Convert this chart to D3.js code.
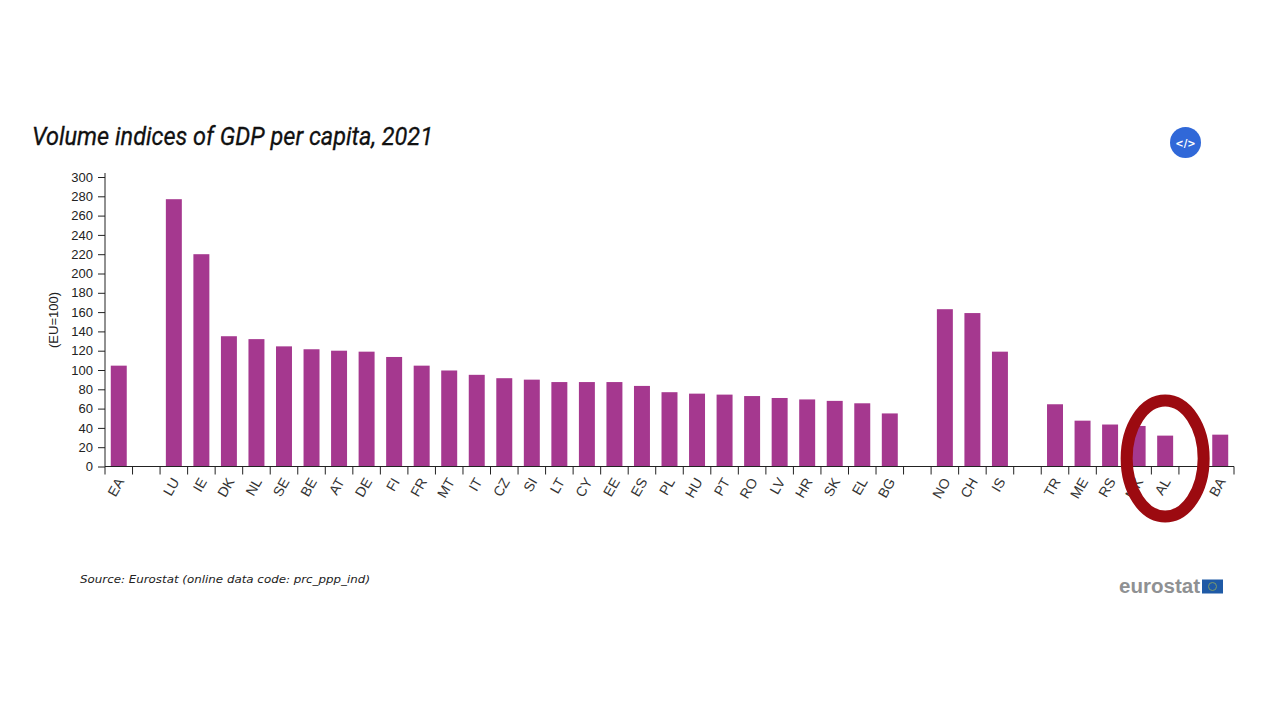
<!DOCTYPE html>
<html>
<head>
<meta charset="utf-8">
<script src="https://cdn.jsdelivr.net/npm/d3@7"></script>
<style>
  html, body { margin: 0; padding: 0; background: #fff; }
  svg { display: block; }
</style>
</head>
<body>
<div id="chart"></div>
<script>
// blank slots are the gaps between country groups
var categories = ["EA", "_1", "LU", "IE", "DK", "NL", "SE", "BE", "AT", "DE", "FI", "FR", "MT", "IT", "CZ", "SI", "LT", "CY", "EE", "ES", "PL", "HU", "PT", "RO", "LV", "HR", "SK", "EL", "BG", "_2", "NO", "CH", "IS", "_3", "TR", "ME", "RS", "MK", "AL", "_4", "BA"];
var values = [104.5, null, 277, 220, 135, 132, 124.5, 121.5, 120, 119, 113.5, 104.5, 99.5, 95, 91.5, 90, 87.5, 87.5, 87.5, 83.5, 77, 75.5, 74.5, 73, 71, 69.5, 68, 65.5, 55, null, 163, 159, 119, null, 64.5, 47.5, 43.5, 42, 32, null, 33];
var yTicks = d3.range(0, 301, 20);

var svg = d3.select("#chart").append("svg")
    .attr("width", 1280)
    .attr("height", 720);

var x = d3.scaleBand().domain(categories).range([105, 1234]).paddingInner(0.42).paddingOuter(0.21);
var y = d3.scaleLinear().domain([0, 300]).range([466.5, 177]);

// title
svg.append("text")
    .attr("x", 32)
    .attr("y", 145)
    .attr("font-family", "Roboto")
    .attr("font-style", "italic")
    .attr("font-size", 25)
    .attr("textLength", 401)
    .attr("lengthAdjust", "spacingAndGlyphs")
    .attr("fill", "#111")
    .attr("stroke", "#111")
    .attr("stroke-width", 0.3)
    .text("Volume indices of GDP per capita, 2021");

// bars
svg.append("g").selectAll("rect")
    .data(categories.map((c, i) => ({ c: c, v: values[i] })).filter(d => d.v !== null))
    .enter().append("rect")
    .attr("x", d => x(d.c))
    .attr("y", d => y(d.v))
    .attr("width", x.bandwidth())
    .attr("height", d => y(0) - y(d.v))
    .attr("fill", "#a5388f");

// y axis
var leftAxis = d3.axisLeft(y).tickValues(yTicks).tickSize(7).tickSizeOuter(0).tickPadding(5);
var yG = svg.append("g").attr("transform", "translate(105,0)").call(leftAxis);
yG.select(".domain").attr("d", "M0," + (y(300) - 4) + "V" + y(0)).attr("stroke", "#222");
yG.selectAll("line").attr("stroke", "#222");
yG.selectAll("text").attr("font-family", "Liberation Sans").attr("font-size", 13).attr("fill", "#222");

svg.append("text")
    .attr("transform", "translate(58,320) rotate(-90)")
    .attr("text-anchor", "middle")
    .attr("font-family", "Liberation Sans")
    .attr("font-size", 13)
    .attr("fill", "#222")
    .text("(EU=100)");

// x axis, ticks sit on the band edges
var bottomAxis = d3.axisBottom(x).tickSize(0).tickPadding(0)
    .tickFormat(d => d[0] === "_" ? "" : d);
var xG = svg.append("g").attr("transform", "translate(0," + y(0) + ")").call(bottomAxis);
xG.select(".domain").attr("d", "M105,0H1234").attr("stroke", "#222");
xG.selectAll("text")
    .attr("font-family", "Liberation Sans")
    .attr("font-size", 14)
    .attr("fill", "#333")
    .attr("text-anchor", "end")
    .attr("dy", 0)
    .attr("transform", "translate(6,15) rotate(-60)");

svg.append("g").selectAll("line")
    .data(categories.concat(["end"]))
    .enter().append("line")
    .attr("x1", (d, i) => 105 + i * x.step())
    .attr("x2", (d, i) => 105 + i * x.step())
    .attr("y1", y(0))
    .attr("y2", y(0) + 8)
    .attr("stroke", "#222");

// red ring round AL
svg.append("ellipse")
    .attr("cx", x("AL") + x.bandwidth() / 2)
    .attr("cy", 458.5)
    .attr("rx", 38.5)
    .attr("ry", 58)
    .attr("fill", "none")
    .attr("stroke", "#9c0a10")
    .attr("stroke-width", 12);

// source
svg.append("text")
    .attr("x", 80)
    .attr("y", 583)
    .attr("font-family", "DejaVu Sans")
    .attr("font-style", "italic")
    .attr("font-size", 11)
    .attr("textLength", 290)
    .attr("lengthAdjust", "spacingAndGlyphs")
    .attr("fill", "#222")
    .text("Source: Eurostat (online data code: prc_ppp_ind)");

// eurostat logo
svg.append("text")
    .attr("x", 1119)
    .attr("y", 593)
    .attr("font-family", "Liberation Sans")
    .attr("font-weight", "bold")
    .attr("font-size", 20)
    .attr("textLength", 81)
    .attr("lengthAdjust", "spacingAndGlyphs")
    .attr("fill", "#8f9193")
    .text("eurostat");
svg.append("rect")
    .attr("x", 1202).attr("y", 579.5)
    .attr("width", 21).attr("height", 14)
    .attr("fill", "#1f5aa6");
svg.append("circle")
    .attr("cx", 1212.5).attr("cy", 586.5).attr("r", 4)
    .attr("fill", "none")
    .attr("stroke", "#7d9c6a")
    .attr("stroke-width", 1);

// embed button
svg.append("circle")
    .attr("cx", 1185.5).attr("cy", 142.5).attr("r", 15.5)
    .attr("fill", "#3068d8");
svg.append("text")
    .attr("x", 1185.5)
    .attr("y", 146.5)
    .attr("text-anchor", "middle")
    .attr("font-family", "DejaVu Sans")
    .attr("font-weight", "bold")
    .attr("font-size", 10)
    .attr("fill", "#fff")
    .text("</>");
</script>
</body>
</html>
